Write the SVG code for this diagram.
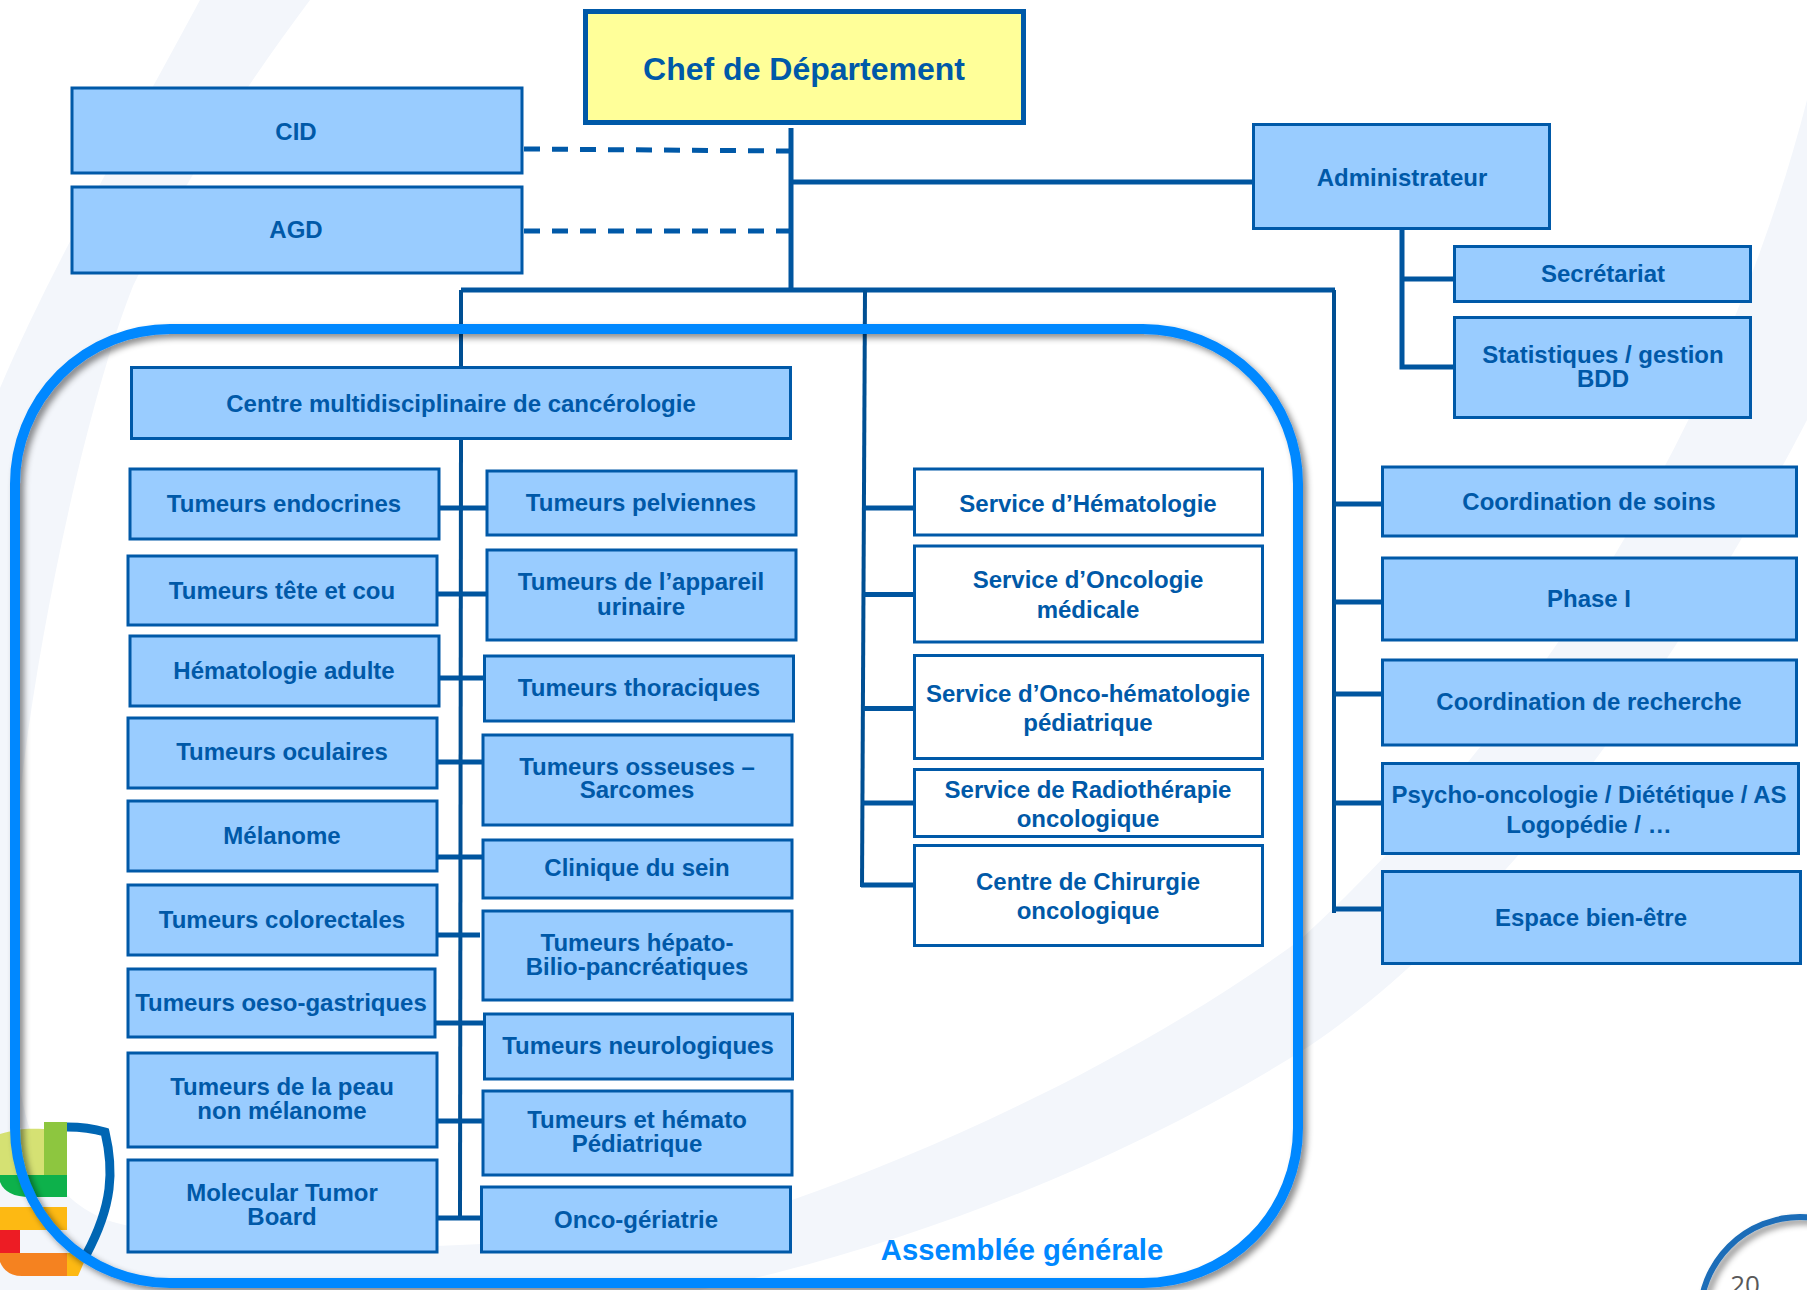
<svg xmlns="http://www.w3.org/2000/svg" width="1807" height="1290" viewBox="0 0 1807 1290">
<style>
text{font-family:"Liberation Sans",Arial,sans-serif;font-weight:700;font-size:24px;fill:#0059A8;text-anchor:middle}
.b{fill:#99CCFF;stroke:#0059A8;stroke-width:3}
.w{fill:#FFFFFF;stroke:#0059A8;stroke-width:3}
.c{fill:none;stroke:#00559F;stroke-width:5}
.s{fill:none;stroke:#004F93;stroke-width:4}
.d{fill:none;stroke:#0059A8;stroke-width:5;stroke-dasharray:16 12}
</style>
<defs>
<filter id="sh" x="-5%" y="-5%" width="110%" height="110%"><feDropShadow dx="4" dy="4" stdDeviation="3" flood-color="#000" flood-opacity="0.45"/></filter>
</defs>
<g id="background">
<rect width="1807" height="1290" fill="#FFFFFF"/>
<path fill="#F3F6FB" d="M200,0 C130,130 50,270 0,388 L0,1290 L700,1290 C900,1250 1130,1160 1308,1047 C1460,945 1640,740 1807,420 L1807,100 C1730,400 1560,700 1300,940 C1150,1050 950,1145 792,1200 C600,1255 250,1260 113,1222 C30,1195 5,1100 12,900 C18,720 80,420 133,286 C190,170 250,80 310,0 Z"/>
</g>
<g id="logo">
<path fill="#D5E173" d="M0,1134 C15,1130 22,1128 44,1129 L44,1175 L0,1175 Z"/>
<rect x="44" y="1122" width="23" height="53" fill="#8DC63F"/>
<path fill="#0DB14B" d="M0,1175 H67 V1197 H30 Q6,1197 0,1182 Z"/>
<rect x="0" y="1207" width="67" height="23" fill="#FDB913"/>
<rect x="0" y="1230" width="20" height="23" fill="#ED1C24"/>
<path fill="#F58220" d="M0,1253 H67 V1276 H22 Q6,1276 0,1262 Z"/>
<path fill="#FDB913" d="M67,1253 H88 L78,1276 H67 Z"/>
<path fill="none" stroke="#0066B3" stroke-width="9" d="M67,1127 Q88,1127 105,1132 C114,1170 113,1205 86,1255"/>
</g>
<g id="connectors">
<path class="c" d="M791,128 V290"/>
<path class="c" d="M791,182 H1254"/>
<path class="d" d="M524,149 L791,151"/>
<path class="d" d="M524,231 H791"/>
<path class="c" d="M461,290 H1335"/>
<path class="s" d="M461,290 V367"/>
<path class="s" d="M865,290 L862,887"/>
<path class="s" d="M1334,290 V913"/>
<path class="c" d="M1402,229 V367 H1454"/>
<path class="c" d="M1402,279 H1454"/>
<path class="s" d="M461,439 L460,1220"/>
<path class="c" d="M439,508 H487"/>
<path class="c" d="M437,594 H487"/>
<path class="c" d="M439,678 H484"/>
<path class="c" d="M437,762 H483"/>
<path class="c" d="M437,857 H483"/>
<path class="c" d="M437,935 H480"/>
<path class="c" d="M435,1023 H484"/>
<path class="c" d="M437,1121 H483"/>
<path class="c" d="M437,1218 H481"/>
<path class="c" d="M863,508 H914"/>
<path class="c" d="M863,594.500 H914"/>
<path class="c" d="M863,708.500 H914"/>
<path class="c" d="M862,803 H914"/>
<path class="c" d="M861,885 H914"/>
<path class="c" d="M1334,504 H1382"/>
<path class="c" d="M1334,602 H1382"/>
<path class="c" d="M1334,694 H1382"/>
<path class="c" d="M1334,803 H1382"/>
<path class="c" d="M1334,909 H1382"/>
</g>
<g id="assemblee">
<rect x="15" y="329" width="1283" height="954" rx="155" ry="155" fill="none" stroke="#0088FF" stroke-width="10" filter="url(#sh)"/>
<text x="1022" y="1260" style="font-size:29.200px;fill:#0088FF">Assemblée générale</text>
</g>
<g id="chef"><rect x="585.500" y="11.500" width="438" height="111" fill="#FFFF99" stroke="#0059A8" stroke-width="5"/><text x="804" y="80" style="font-size:32px">Chef de Département</text></g>
<g id="cid"><rect class="b" x="72" y="88" width="450" height="85"/><text x="296" y="140">CID</text></g>
<g id="agd"><rect class="b" x="72" y="187" width="450" height="86"/><text x="296" y="238">AGD</text></g>
<g id="admin"><rect class="b" x="1253.500" y="124.500" width="296" height="104"/><text x="1402" y="186">Administrateur</text></g>
<g id="secretariat"><rect class="b" x="1454.500" y="246.500" width="296" height="55"/><text x="1603" y="282">Secrétariat</text></g>
<g id="stats"><rect class="b" x="1454.500" y="317.500" width="296" height="100"/><text x="1603" y="363">Statistiques / gestion</text><text x="1603" y="387">BDD</text></g>
<g id="centre"><rect class="b" x="131.500" y="367.500" width="659" height="71"/><text x="461" y="412">Centre multidisciplinaire de cancérologie</text></g>
<g id="endocrines"><rect class="b" x="130" y="469" width="309" height="70"/><text x="284" y="512">Tumeurs endocrines</text></g>
<g id="tete"><rect class="b" x="128" y="556" width="309" height="69"/><text x="282" y="599">Tumeurs tête et cou</text></g>
<g id="hematologie"><rect class="b" x="130" y="636" width="309" height="70"/><text x="284" y="679">Hématologie adulte</text></g>
<g id="oculaires"><rect class="b" x="128" y="718" width="309" height="70"/><text x="282" y="760">Tumeurs oculaires</text></g>
<g id="melanome"><rect class="b" x="128" y="801" width="309" height="70"/><text x="282" y="844">Mélanome</text></g>
<g id="colorectales"><rect class="b" x="128" y="885" width="309" height="70"/><text x="282" y="928">Tumeurs colorectales</text></g>
<g id="oeso"><rect class="b" x="128" y="969" width="307" height="68"/><text x="281" y="1011">Tumeurs oeso-gastriques</text></g>
<g id="peau"><rect class="b" x="128" y="1053" width="309" height="94"/><text x="282" y="1095">Tumeurs de la peau</text><text x="282" y="1119">non mélanome</text></g>
<g id="molecular"><rect class="b" x="128" y="1160" width="309" height="92"/><text x="282" y="1201">Molecular Tumor</text><text x="282" y="1225">Board</text></g>
<g id="pelviennes"><rect class="b" x="487" y="471" width="309" height="64"/><text x="641" y="511">Tumeurs pelviennes</text></g>
<g id="appareil"><rect class="b" x="487" y="550" width="309" height="90"/><text x="641" y="590">Tumeurs de l’appareil</text><text x="641" y="615">urinaire</text></g>
<g id="thoraciques"><rect class="b" x="484.500" y="656" width="309" height="65"/><text x="639" y="696">Tumeurs thoraciques</text></g>
<g id="osseuses"><rect class="b" x="483" y="735" width="309" height="90"/><text x="637" y="775">Tumeurs osseuses –</text><text x="637" y="798">Sarcomes</text></g>
<g id="sein"><rect class="b" x="483" y="840" width="309" height="58"/><text x="637" y="876">Clinique du sein</text></g>
<g id="hepato"><rect class="b" x="483" y="911" width="309" height="89"/><text x="637" y="951">Tumeurs hépato-</text><text x="637" y="975">Bilio-pancréatiques</text></g>
<g id="neuro"><rect class="b" x="484.500" y="1014" width="308" height="65"/><text x="638" y="1054">Tumeurs neurologiques</text></g>
<g id="pediatrique"><rect class="b" x="483" y="1091" width="309" height="84"/><text x="637" y="1128">Tumeurs et hémato</text><text x="637" y="1152">Pédiatrique</text></g>
<g id="geriatrie"><rect class="b" x="481.500" y="1187" width="309" height="65"/><text x="636" y="1228">Onco-gériatrie</text></g>
<g id="s-hemato"><rect class="w" x="914.500" y="469" width="348" height="66"/><text x="1088" y="512">Service d’Hématologie</text></g>
<g id="s-onco"><rect class="w" x="914.500" y="546" width="348" height="96"/><text x="1088" y="588">Service d’Oncologie</text><text x="1088" y="618">médicale</text></g>
<g id="s-oncohemato"><rect class="w" x="914.500" y="655.500" width="348" height="103"/><text x="1088" y="702">Service d’Onco-hématologie</text><text x="1088" y="731">pédiatrique</text></g>
<g id="s-radio"><rect class="w" x="914.500" y="769.500" width="348" height="67"/><text x="1088" y="798">Service de Radiothérapie</text><text x="1088" y="827">oncologique</text></g>
<g id="s-chirurgie"><rect class="w" x="914.500" y="845.500" width="348" height="100"/><text x="1088" y="890">Centre de Chirurgie</text><text x="1088" y="919">oncologique</text></g>
<g id="soins"><rect class="b" x="1382.500" y="467" width="414" height="69"/><text x="1589" y="510">Coordination de soins</text></g>
<g id="phase"><rect class="b" x="1382.500" y="558" width="414" height="82"/><text x="1589" y="607">Phase I</text></g>
<g id="recherche"><rect class="b" x="1382.500" y="660" width="414" height="85"/><text x="1589" y="710">Coordination de recherche</text></g>
<g id="psycho"><rect class="b" x="1382.500" y="763.500" width="416" height="90"/><text x="1589" y="803">Psycho-oncologie / Diététique / AS</text><text x="1589" y="833">Logopédie / …</text></g>
<g id="espace"><rect class="b" x="1382.500" y="871.500" width="418" height="92"/><text x="1591" y="926">Espace bien-être</text></g>
<g id="page">
<circle cx="1800" cy="1317" r="100" fill="none" stroke="#1B6DB8" stroke-width="6" filter="url(#sh)"/>
<text x="1745" y="1294" style="font-family:'Open Sans',sans-serif;font-weight:400;font-size:26px;fill:#595959">20</text>
</g>
</svg>
